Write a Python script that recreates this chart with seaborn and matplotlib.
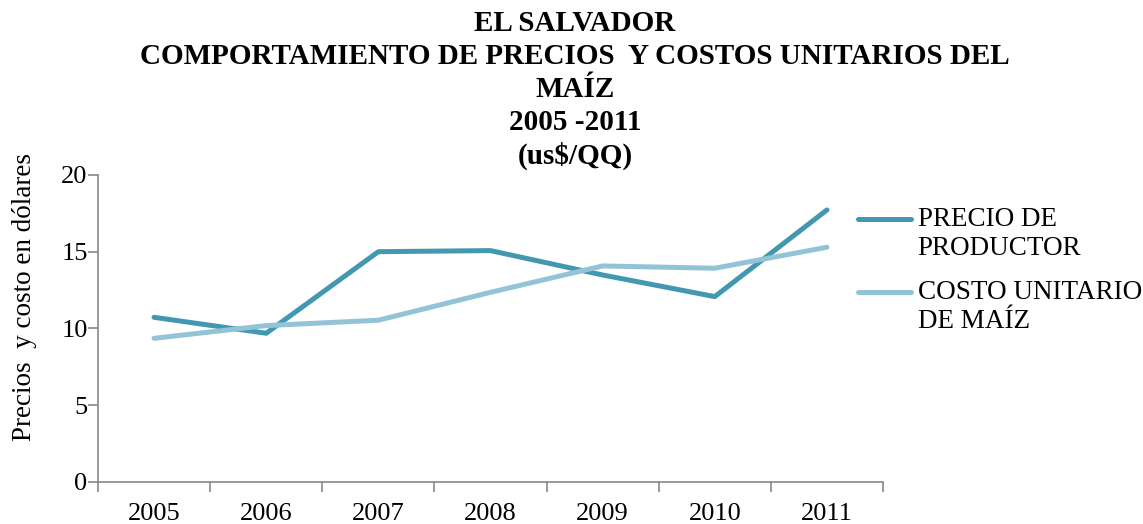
import matplotlib
matplotlib.use("Agg")
import matplotlib.pyplot as plt
import seaborn as sns
import pandas as pd
import numpy as np
from matplotlib.lines import Line2D
from matplotlib.legend_handler import HandlerLine2D

years = [2005, 2006, 2007, 2008, 2009, 2010, 2011]
precio_productor = [10.72, 9.68, 15.0, 15.07, 13.48, 12.07, 17.72]
costo_unitario = [9.35, 10.18, 10.53, 12.35, 14.07, 13.92, 15.29]
series_names = ["PRECIO DE\nPRODUCTOR", "COSTO UNITARIO\nDE MAÍZ"]
colors = ["#4198B0", "#93C3D6"]

df = pd.DataFrame({
    "year": years * 2,
    "value": precio_productor + costo_unitario,
    "serie": [series_names[0]] * len(years) + [series_names[1]] * len(years),
})

sns.set_style("white")
plt.rcParams['font.family'] = ['Liberation Serif', 'DejaVu Serif']
plt.rcParams['text.color'] = 'black'
plt.rcParams['xtick.color'] = '#888888'
plt.rcParams['ytick.color'] = '#888888'
plt.rcParams['xtick.labelcolor'] = 'black'
plt.rcParams['ytick.labelcolor'] = 'black'
plt.rcParams['axes.labelcolor'] = 'black'

fig = plt.figure(figsize=(11.43, 5.24), dpi=100)
ax = fig.add_axes([98/1143, 1 - 481.7/524, (883-98)/1143, (481.7-175)/524])

sns.lineplot(data=df, x="year", y="value", hue="serie", palette=colors,
             linewidth=3.6, ax=ax, legend=False, solid_capstyle="round")

ax.set_xlim(2004.5, 2011.5)
ax.set_ylim(0, 20)
ax.set_yticks([0, 5, 10, 15, 20])
ax.set_xticks(np.arange(2004.5, 2012, 1.0))
ax.set_xticklabels([])
ax.set_xticks(years, minor=True)
ax.set_xticklabels([str(y) for y in years], minor=True)
ax.tick_params(axis="x", which="major", bottom=True, length=7, width=1.2,
               color="#888888", direction="out")
ax.tick_params(axis="x", which="minor", bottom=True, length=0, labelsize=19, pad=15.5)
ax.tick_params(axis="y", which="major", left=True, length=7, width=1.2, color="#888888",
               direction="out", labelsize=19, pad=0.5)
for s in ["top", "right"]:
    ax.spines[s].set_visible(False)
for s in ["left", "bottom"]:
    ax.spines[s].set_color("#888888")
    ax.spines[s].set_linewidth(1.2)
ax.set_xlabel("")
ax.set_ylabel("Precios  y costo en dólares", fontsize=19.5, va="center")
ax.yaxis.set_label_coords(-0.094, 0.602)


class UpHandler(HandlerLine2D):
    def create_artists(self, legend, orig_handle, xdescent, ydescent, width, height,
                       fontsize, trans):
        arts = super().create_artists(legend, orig_handle, xdescent, ydescent, width,
                                      height, fontsize, trans)
        for a in arts:
            a.set_ydata(np.asarray(a.get_ydata()) + fontsize * 0.55)
        return arts


handles = [Line2D([0], [0], color=c, lw=3.6, solid_capstyle="round") for c in colors]
leg = fig.legend(handles, series_names, loc="upper left",
                 bbox_to_anchor=(858/1143, 1 - 207/524),
                 frameon=False, fontsize=19.5, handlelength=1.95, handletextpad=0.25,
                 labelspacing=0.72, borderpad=0, borderaxespad=0,
                 handler_map={Line2D: UpHandler()})
for t in leg.get_texts():
    t.set_linespacing(1.2)

fig.text(575/1143, 1 - 10/524,
         "EL SALVADOR\nCOMPORTAMIENTO DE PRECIOS  Y COSTOS UNITARIOS DEL\nMAÍZ\n2005 -2011\n(us$/QQ)",
         ha="center", va="top", fontsize=21, fontweight="bold", linespacing=1.28)

fig.savefig("out.png", dpi=100, facecolor="white")
